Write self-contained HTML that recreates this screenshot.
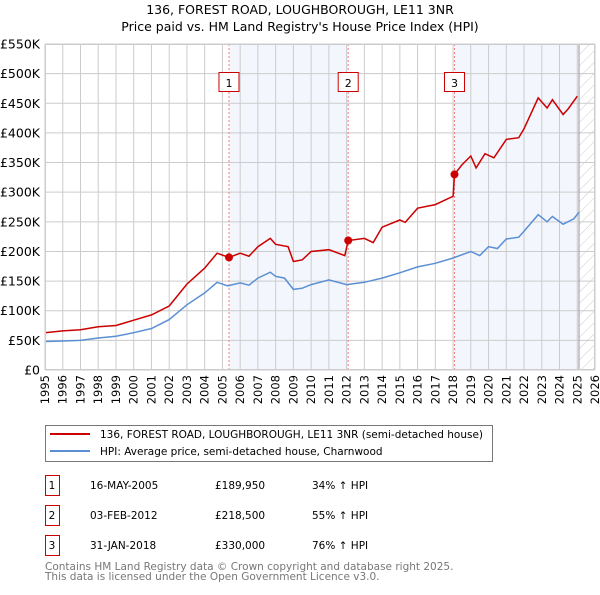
<!DOCTYPE html>
<html><head><meta charset="utf-8"><style>
body{margin:0;background:#fff;font-family:"Liberation Sans","DejaVu Sans",sans-serif}
svg text{font-family:"DejaVu Sans","Liberation Sans",sans-serif}
</style></head><body>
<svg id="c" width="600" height="590" xmlns="http://www.w3.org/2000/svg">
<defs><pattern id="hatch" width="8" height="8" patternUnits="userSpaceOnUse" patternTransform="rotate(45)"><line x1="0" y1="0" x2="0" y2="8" stroke="#ccc" stroke-width="1"/></pattern></defs>
<text x="300" y="14" text-anchor="middle" font-size="12.5">136, FOREST ROAD, LOUGHBOROUGH, LE11 3NR</text>
<text x="300" y="31" text-anchor="middle" font-size="12.5">Price paid vs. HM Land Registry's House Price Index (HPI)</text>
<g id="plot"></g>
<g>
<rect x="45.5" y="425.5" width="447" height="36" fill="#fff" stroke="#777"/>
<line x1="50" y1="434" x2="90" y2="434" stroke="#cc0000" stroke-width="2"/>
<text x="100" y="438" font-size="10.5">136, FOREST ROAD, LOUGHBOROUGH, LE11 3NR (semi-detached house)</text>
<line x1="50" y1="451" x2="90" y2="451" stroke="#5b8fd4" stroke-width="2"/>
<text x="100" y="455" font-size="10.5">HPI: Average price, semi-detached house, Charnwood</text>
</g>
<g id="table" font-size="10.5"></g>
<text x="45" y="570" font-size="10.5" fill="#777">Contains HM Land Registry data © Crown copyright and database right 2025.</text>
<text x="45" y="580" font-size="10.5" fill="#777">This data is licensed under the Open Government Licence v3.0.</text>
</svg>
<script>
const hpiYears=[1995,1996,1997,1998,1999,2000,2001,2002,2003,2004,2004.7,2005.3,2006,2006.5,2007,2007.7,2008,2008.5,2009,2009.5,2010,2011,2012,2013,2014,2015,2016,2017,2018,2019,2019.5,2020,2020.5,2021,2021.7,2022,2022.8,2023.3,2023.6,2024.2,2024.8,2025.1];
const hpiValues=[48,49,50,54,57,63,70,85,110,130,148,142,147,143,155,165,158,155,136,138,144,152,144,148,155,164,174,180,189,200,193,208,205,221,224,234,262,250,259,246,255,266];
const priceYears=[1995,1996,1997,1998,1999,2000,2001,2002,2003,2004,2004.7,2005.37,2006,2006.5,2007,2007.7,2008,2008.7,2009,2009.5,2010,2011,2011.9,2012.09,2013,2013.5,2014,2015,2015.3,2016,2017,2018.0,2018.08,2018.5,2019,2019.3,2019.8,2020.3,2021,2021.7,2022,2022.8,2023.3,2023.6,2024.2,2024.5,2025.0];
const priceValues=[63,66,68,73,75,84,93,108,145,172,197,190,197,192,208,222,212,208,183,186,200,203,193,218.5,222,215,241,253,249,273,279,293,330,346,361,341,365,358,389,392,407,459,442,456,431,441,462];
const saleLabels=["1","2","3"];
const saleYears=[2005.37,2012.09,2018.08];
const saleValues=[189.95,218.5,330];
const saleDates=["16-MAY-2005","03-FEB-2012","31-JAN-2018"];
const salePrices=["£189,950","£218,500","£330,000"];
const saleDiffs=["34% ↑ HPI","55% ↑ HPI","76% ↑ HPI"];
const yTicks=[0,50,100,150,200,250,300,350,400,450,500,550];
const yTickLabels=["£0","£50K","£100K","£150K","£200K","£250K","£300K","£350K","£400K","£450K","£500K","£550K"];
const xTicks=[1995,1996,1997,1998,1999,2000,2001,2002,2003,2004,2005,2006,2007,2008,2009,2010,2011,2012,2013,2014,2015,2016,2017,2018,2019,2020,2021,2022,2023,2024,2025,2026];
const dataEnd=2025.1;

const NS="http://www.w3.org/2000/svg";
const L=45,R=595,T=44,B=370;
const xs=y=>L+(y-1995)/(2026-1995)*(R-L);
const ys=v=>B-v/550*(B-T);
const plot=document.getElementById('plot');
function mk(tag,attrs,parent){const e=document.createElementNS(NS,tag);for(const k in attrs)e.setAttribute(k,attrs[k]);(parent||plot).appendChild(e);return e;}

let s1=mk('rect',{x:xs(saleYears[0]),y:T,width:xs(saleYears[1])-xs(saleYears[0]),height:B-T,fill:'#f3f6fd'});


let s2=mk('rect',{x:xs(saleYears[2]),y:T,width:xs(dataEnd)-xs(saleYears[2]),height:B-T,fill:'#f3f6fd'});


let h=mk('rect',{x:xs(dataEnd),y:T,width:R-xs(dataEnd),height:B-T,fill:'url(#hatch)'});


xTicks.forEach(t=>{let g=mk('line',{x1:xs(t),x2:xs(t),y1:T,y2:B,stroke:'#ccc','stroke-width':1});


let tx=mk('text',{x:0,y:0,'font-size':11.5,transform:`translate(${xs(t)+4},375) rotate(-90)`,'text-anchor':'end'});tx.textContent=t;

});
yTicks.forEach((t,i)=>{let g=mk('line',{x1:L,x2:R,y1:ys(t),y2:ys(t),stroke:'#ccc','stroke-width':1});


let tx=mk('text',{x:40,y:ys(t)+4.5,'font-size':12.5,'text-anchor':'end'});tx.textContent=yTickLabels[i];

});
let ed=mk('line',{x1:xs(dataEnd),x2:xs(dataEnd),y1:T,y2:B,stroke:'#999','stroke-width':1});


saleYears.forEach((y,i)=>{let l=mk('line',{x1:xs(y),x2:xs(y),y1:T,y2:B,stroke:'#f08080','stroke-dasharray':'2,2','stroke-width':1});

});
const pts=(xa,va)=>xa.map((x,i)=>xs(x).toFixed(1)+','+ys(va[i]).toFixed(1)).join(' ');
let hl=mk('polyline',{points:pts(hpiYears,hpiValues),fill:'none',stroke:'#5b8fd4','stroke-width':1.5});


let pl=mk('polyline',{points:pts(priceYears,priceValues),fill:'none',stroke:'#cc0000','stroke-width':1.5});


saleYears.forEach((y,i)=>{let c=mk('circle',{cx:xs(y),cy:ys(saleValues[i]),r:4,fill:'#cc0000'});


let b=mk('rect',{x:xs(y)-10,y:72.5,width:20,height:19,fill:'#fff',stroke:'#cc0000'});


let t=mk('text',{x:xs(y),y:87,'font-size':11,'text-anchor':'middle'});t.textContent=saleLabels[i];

});
let fr=mk('rect',{x:L+0.5,y:T+0.5,width:R-L-1,height:B-T-1,fill:'none',stroke:'#ccc'});


const tb=document.getElementById('table');
saleLabels.forEach((s,i)=>{const y=483+i*30;
let b=mk('rect',{x:45.5,y:y-7.5,width:14,height:20,fill:'#fff',stroke:'#cc0000'},tb);


const cells=[[52,s,'middle'],[90,saleDates[i],'start'],[215,salePrices[i],'start'],[312,saleDiffs[i],'start']];
cells.forEach(c=>{let t=mk('text',{x:c[0],y:y+6,'text-anchor':c[2]},tb);t.textContent=c[1];

});});
</script>
</body></html>
